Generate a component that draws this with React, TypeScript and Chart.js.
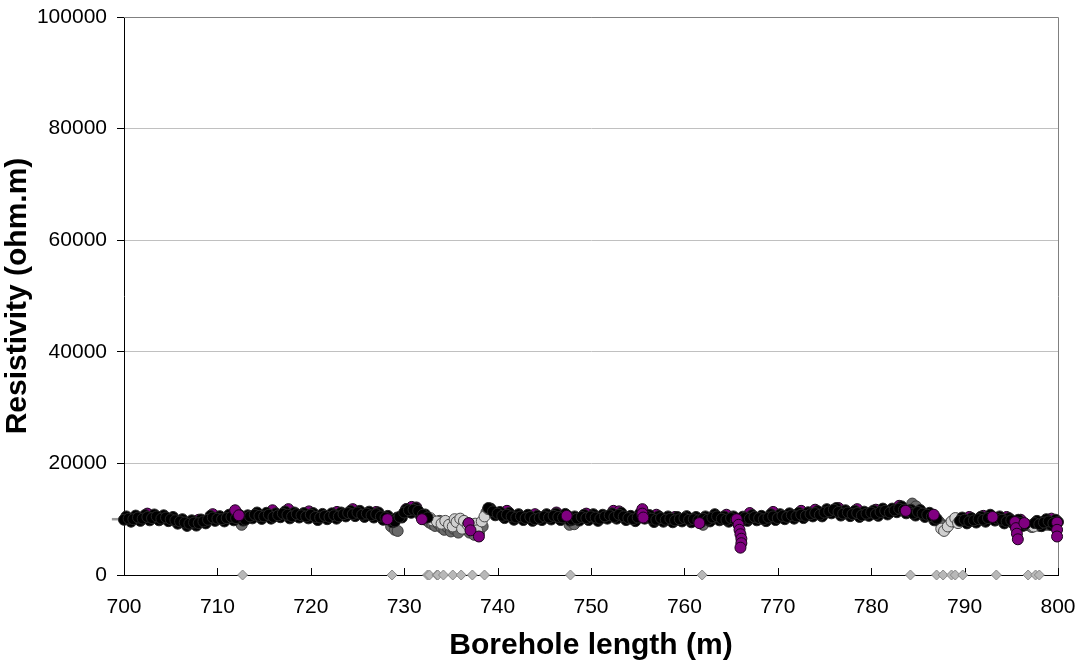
import React, { useEffect, useRef } from "react";
import { Chart, registerables } from "chart.js";

Chart.register(...registerables);

// Main resistivity samples (black)
const blackDepth = [
  700, 700.5, 701, 701.5, 702, 702.5, 703, 703.5, 704, 704.5, 705, 705.5, 706, 706.5, 707, 707.5, 708, 708.5, 709, 709.5,
  710, 710.5, 711, 711.5, 712, 712.5, 713, 713.5, 714, 714.5, 715, 715.5, 716, 716.5, 717, 717.5, 718, 718.5, 719, 719.5,
  720, 720.5, 721, 721.5, 722, 722.5, 723, 723.5, 724, 724.5, 725, 725.5, 726, 726.5, 727, 727.5, 728, 728.5, 729, 729.5,
  730, 730.5, 731, 731.5, 732, 732.5,
  739, 739.5, 740, 740.5, 741, 741.5, 742, 742.5, 743, 743.5, 744, 744.5, 745, 745.5, 746, 746.5, 747, 747.5, 748, 748.5, 749, 749.5,
  750, 750.5, 751, 751.5, 752, 752.5, 753, 753.5, 754, 754.5, 755, 755.5, 756, 756.5, 757, 757.5, 758, 758.5, 759, 759.5,
  760, 760.5, 761, 761.5, 762, 762.5, 763, 763.5, 764, 764.5, 765, 765.5, 766, 766.5, 767, 767.5, 768, 768.5, 769, 769.5,
  770, 770.5, 771, 771.5, 772, 772.5, 773, 773.5, 774, 774.5, 775, 775.5, 776, 776.5, 777, 777.5, 778, 778.5, 779, 779.5,
  780, 780.5, 781, 781.5, 782, 782.5, 783, 783.5, 784, 784.5, 785, 785.5, 786, 786.5, 787,
  789.5, 790, 790.5, 791, 791.5, 792, 792.5, 793, 793.5, 794, 794.5, 795, 795.5, 796, 796.5,
  797.5, 798, 798.5, 799, 799.5, 800,
];
const blackRes = [
  9900, 10100, 10000, 10300, 10100, 10400, 10200, 10500, 10100, 10300, 10000, 9800, 9600, 9400, 9200, 9400, 9300, 9600, 9900, 10300,
  10100, 10000, 10200, 10400, 10200, 10600, 9900, 10500, 10800, 10600, 10500, 10800, 10400, 10700, 11000, 10800, 10500, 10900, 10700, 10500,
  10800, 10400, 10300, 10600, 10400, 10700, 10500, 10900, 11100, 10900, 11200, 10800, 11000, 10700, 10900, 10500, 10300, 9900, 9600, 10400,
  11200, 11600, 11700, 11500, 10800, 10300,
  12000, 11400, 11000, 10600, 10800, 10500, 10300, 10500, 10200, 10400, 10000, 10200, 10500, 10300, 10600, 10400, 10300, 10600, 9900, 10100, 10400, 10200,
  10500, 10300, 10100, 10500, 10700, 10400, 10800, 10500, 10200, 10000, 10300, 10800, 10400, 10100, 9900, 10200, 9900, 10100, 9800, 10000,
  10200, 9900, 10000, 9800, 10100, 9900, 10300, 10500, 10100, 9900, 10200, 9800, 9600, 10300, 10100, 10400, 10200, 10000, 10300, 10500,
  10200, 10600, 10400, 10700, 10500, 10800, 10600, 10900, 11100, 10800, 11200, 11400, 11700, 11300, 11000, 11200, 10900, 11100, 10700, 11000,
  11200, 10900, 11300, 11500, 11200, 11600, 11900, 11700, 11400, 11000, 11300, 11000, 10800, 10500, 10100,
  9700, 9900, 9600, 9800, 10000, 9900, 10200, 10400, 10100, 9900, 9600, 9800, 9500, 9300, 9100,
  9300, 9100, 9400, 9600, 9300, 9500,
];

// In-between black samples (upper and lower edge of the band)
const blackDepth2 = [
  700.25, 700.75, 701.25, 701.75, 702.25, 702.75, 703.25, 703.75, 704.25, 704.75, 705.25, 705.75, 706.25, 706.75, 707.25, 707.75,
  708.25, 708.75, 709.25, 709.75, 710.25, 710.75, 711.25, 711.75, 712.25, 712.75, 713.25, 713.75, 714.25, 714.75, 715.25, 715.75,
  716.25, 716.75, 717.25, 717.75, 718.25, 718.75, 719.25, 719.75, 720.25, 720.75, 721.25, 721.75, 722.25, 722.75, 723.25, 723.75,
  724.25, 724.75, 725.25, 725.75, 726.25, 726.75, 727.25, 727.75, 728.25, 728.75, 729.25, 729.75, 730.25, 730.75, 731.25, 731.75, 732.25,
  739.25, 739.75, 740.25, 740.75, 741.25, 741.75, 742.25, 742.75, 743.25, 743.75, 744.25, 744.75, 745.25, 745.75, 746.25, 746.75,
  747.25, 747.75, 748.25, 748.75, 749.25, 749.75, 750.25, 750.75, 751.25, 751.75, 752.25, 752.75, 753.25, 753.75, 754.25, 754.75,
  755.25, 755.75, 756.25, 756.75, 757.25, 757.75, 758.25, 758.75, 759.25, 759.75, 760.25, 760.75, 761.25, 761.75, 762.25, 762.75,
  763.25, 763.75, 764.25, 764.75, 765.25, 765.75, 766.25, 766.75, 767.25, 767.75, 768.25, 768.75, 769.25, 769.75, 770.25, 770.75,
  771.25, 771.75, 772.25, 772.75, 773.25, 773.75, 774.25, 774.75, 775.25, 775.75, 776.25, 776.75, 777.25, 777.75, 778.25, 778.75,
  779.25, 779.75, 780.25, 780.75, 781.25, 781.75, 782.25, 782.75, 783.25, 783.75, 784.25, 784.75, 785.25, 785.75, 786.25, 786.75,
  789.75, 790.25, 790.75, 791.25, 791.75, 792.25, 792.75, 793.25, 793.75, 794.25, 794.75, 795.25, 795.75, 796.25,
  797.75, 798.25, 798.75, 799.25, 799.75,
];
const blackRes2 = [
  10500, 9550, 10650, 9700, 10750, 9800, 10850, 9800, 10700, 9650, 10400, 9200, 10000, 8800, 9800, 8850,
  9950, 9250, 10600, 9700, 10550, 9600, 10800, 9800, 10900, 9750, 10700, 10150, 11200, 10050, 11150, 10100,
  11050, 10350, 11400, 10150, 11200, 10300, 11100, 10150, 11100, 9850, 10950, 10000, 11050, 10100, 11200, 10500,
  11500, 10550, 11500, 10400, 11350, 10300, 11200, 9900, 10600, 9450, 10300, 10300, 11800, 11150, 12000, 10650, 10850,
  11900, 10700, 11300, 10200, 11150, 9900, 10900, 9850, 10800, 9700, 10600, 9850, 10900, 9950, 11000, 9850,
  10950, 9750, 10500, 9750, 10800, 9850, 10900, 9700, 10800, 10100, 11050, 10100, 11150, 9850, 10600, 9650,
  11050, 10100, 10750, 9500, 10550, 9550, 10500, 9450, 10400, 9600, 10550, 9450, 10400, 9450, 10500, 9600,
  10900, 9800, 10500, 9550, 10500, 9200, 10450, 9700, 10750, 9800, 10600, 9650, 10900, 9850, 10900, 10000,
  11050, 10100, 11150, 10200, 11250, 10500, 11450, 10500, 11800, 11050, 12000, 10650, 11600, 10550, 11500, 10400,
  11350, 10600, 11550, 10600, 11900, 10850, 11900, 11250, 12300, 11050, 11700, 10650, 11650, 10400, 11150, 9800,
  10300, 9250, 10200, 9400, 10450, 9550, 10800, 9750, 10500, 9250, 10200, 9150, 9900, 8800,
  9700, 8750, 10000, 8950, 9900,
];

// Fully visible purple samples
const purpleTopDepth = [
  711.9, 712.3, 728.2, 731.9, 736.9, 737.1, 738.0, 747.4, 755.5, 755.5, 755.6, 761.6,
  765.6, 765.8, 765.9, 766.0, 766.1, 766.1, 766.0, 783.7, 786.7, 793.0,
  795.4, 795.5, 795.6, 795.7, 796.4, 799.9, 799.9, 799.9,
];
const purpleTopRes = [
  11600, 10700, 10000, 10000, 9300, 8000, 6900, 10600, 11800, 11000, 10300, 9300,
  10000, 9000, 8100, 7300, 6500, 5700, 4900, 11500, 10800, 10400,
  9500, 8400, 7400, 6400, 9300, 9400, 8100, 6900,
];

// Purple samples partly hidden in the band
const purpleUnderDepth = [
  702.5, 708, 709.5, 715.9, 717.6, 719.8, 722.8, 724.5, 727, 730.2, 730.8, 731.3,
  741, 744, 746.3, 749.5, 752.4, 753, 757, 759, 764.5, 765.2, 767, 769.5,
  772.5, 774, 776.5, 778.5, 780.5, 783, 790.5, 792, 794.5, 796, 799.3,
];
const purpleUnderRes = [
  11000, 9900, 10900, 11600, 11800, 11400, 11300, 11800, 11300, 11800, 12200, 12100,
  11500, 10900, 11200, 11000, 11500, 11400, 10800, 10400, 10800, 10100, 11100, 11300,
  11500, 11700, 12000, 11800, 11700, 12400, 10400, 10600, 10400, 9900, 10100,
];

// Dark grey samples
const darkGreyDepth = [
  712.6, 728.6, 729.0, 729.3, 732.3, 732.7, 733.0, 733.3, 733.6, 733.8, 734.0, 734.3, 734.6, 734.8, 735.0, 735.3, 735.6, 735.8,
  736.0, 736.3, 736.6, 736.8, 737.0, 737.3, 737.5, 737.8, 738.0, 738.4, 738.8, 739.2, 747.7, 748.2, 762.0,
  784.4, 784.8, 787.3, 787.6, 788.0, 788.4, 788.8, 789.2, 789.5,
  796.8, 797.2, 797.6, 798.0, 798.4, 798.8,
];
const darkGreyRes = [
  9000, 8700, 8100, 7900, 9900, 9400, 9100, 8800, 9300, 9700, 8500, 8100, 8600, 9200, 7800, 8300, 8900, 7600,
  9400, 9000, 8200, 8700, 7600, 8100, 7200, 8300, 7500, 8700, 11200, 11900, 9000, 9100, 9000,
  12800, 12300, 9500, 8900, 8400, 9200, 9800, 10100, 9600,
  8900, 8600, 9200, 8800, 9500, 9000,
];

// Light grey samples
const lightGreyDepth = [
  732.8, 733.0, 733.5, 734.0, 734.4, 734.8, 735.2, 735.4, 735.6, 736.0, 736.2, 736.4, 736.8, 737.2, 737.6, 737.8, 738.3, 738.6, 739.0,
  787.5, 787.8, 788.2, 788.6, 789.0, 789.3, 797.4, 798.2,
];
const lightGreyRes = [
  10200, 9800, 9600, 9200, 9700, 9000, 8700, 10000, 9500, 10100, 8300, 9700, 9000, 8400, 9200, 8000, 9600, 10500, 11800,
  8300, 7900, 8700, 9600, 10200, 9300, 8700, 9300,
];

// Markers on the zero line
const markerDepth = [
  712.7, 728.7, 732.5, 732.7, 733.5, 733.6, 734.2, 735.2, 736.1, 737.3, 738.6, 747.8, 761.9,
  784.2, 787.0, 787.7, 788.6, 789.0, 789.8, 793.4, 796.8, 797.6, 798.0,
];
const markerRes = markerDepth.map(() => 0);

// Grey trend line (only its ends show outside the axes)
const trendDepth = [698.7, 700.3, 799.6, 800.5, 801.1];
const trendRes = [10000, 10000, 9200, 7600, 11200];
const trendGap = [false, true, false, false, false];

const xTicks = [700, 710, 720, 730, 740, 750, 760, 770, 780, 790, 800];

const pts = (xs: number[], ys: number[]) => xs.map((x, i) => ({ x, y: ys[i] }));

const FONT = "'Liberation Sans', Arial, sans-serif";

const framePlugin = {
  id: "frame",
  beforeDatasetsDraw(chart: any) {
    const { ctx, chartArea, scales } = chart;
    ctx.save();
    ctx.strokeStyle = "#808080";
    ctx.lineWidth = 1;
    ctx.beginPath();
    ctx.moveTo(chartArea.left, chartArea.top + 0.5);
    ctx.lineTo(chartArea.right + 0.5, chartArea.top + 0.5);
    ctx.lineTo(chartArea.right + 0.5, chartArea.bottom);
    ctx.stroke();
    ctx.strokeStyle = "#000";
    ctx.beginPath();
    for (const t of xTicks) {
      const px = Math.round(scales.x.getPixelForValue(t)) + 0.5;
      ctx.moveTo(px, chartArea.bottom);
      ctx.lineTo(px, chartArea.bottom - 7);
    }
    ctx.stroke();
    ctx.restore();
  },
};

export default function App() {
  const ref = useRef<HTMLCanvasElement>(null);
  useEffect(() => {
    if (!ref.current) return;
    const circle = (bg: string, border: string, order: number, data: any) => ({
      data,
      order,
      pointStyle: "circle",
      pointRadius: 5.5,
      pointBackgroundColor: bg,
      pointBorderColor: border,
      pointBorderWidth: 1,
      showLine: false,
      clip: false,
    });
    const trendData = trendDepth.map((x, i) => ({ x, y: trendGap[i - 1] ? null : trendRes[i] }));
    const chart = new Chart(ref.current, {
      type: "scatter",
      data: {
        datasets: [
          circle("#800080", "#1a001a", 0, pts(purpleTopDepth, purpleTopRes)),
          circle("#000000", "#262626", 1, pts(blackDepth, blackRes)),
          circle("#000000", "#262626", 2, pts(blackDepth2, blackRes2)),
          circle("#800080", "#1a001a", 3, pts(purpleUnderDepth, purpleUnderRes)),
          circle("#d0d0d0", "#4a4a4a", 4, pts(lightGreyDepth, lightGreyRes)),
          circle("#6a6a6a", "#3a3a3a", 5, pts(darkGreyDepth, darkGreyRes)),
          {
            data: pts(markerDepth, markerRes),
            order: 6,
            pointStyle: "rectRot",
            pointRadius: 5,
            pointBackgroundColor: "#b8b8b8",
            pointBorderColor: "#8a8a8a",
            pointBorderWidth: 1,
            showLine: false,
            clip: false,
          },
          {
            data: trendData,
            order: 7,
            showLine: true,
            spanGaps: false,
            borderColor: "#9a9a9a",
            borderWidth: 2.5,
            pointRadius: 0,
            clip: false,
          } as any,
        ],
      },
      options: {
        responsive: false,
        animation: false,
        devicePixelRatio: 1,
        layout: { padding: { left: 0, right: 24, top: 17, bottom: 0 } },
        plugins: { legend: { display: false }, tooltip: { enabled: false } },
        scales: {
          x: {
            type: "linear",
            min: 700,
            max: 800,
            afterFit: (s: any) => {
              s.height = 91;
              s.paddingLeft = 0;
              s.paddingRight = 0;
            },
            afterBuildTicks: (s: any) => {
              s.ticks = xTicks.map((v) => ({ value: v }));
            },
            grid: { display: true, drawOnChartArea: false, drawTicks: false },
            border: { color: "#000", width: 1 },
            ticks: {
              color: "#000",
              font: { family: FONT, size: 21 },
              padding: 20,
              maxRotation: 0,
              autoSkip: false,
              callback: (v: any) => String(v),
            },
            title: {
              display: true,
              text: "Borehole length (m)",
              color: "#000",
              font: { family: FONT, size: 30, weight: "bold" },
              padding: { top: 0, bottom: 2 },
            },
          },
          y: {
            type: "linear",
            min: 0,
            max: 100000,
            afterFit: (s: any) => {
              s.width = 124;
              s.paddingTop = 0;
              s.paddingBottom = 0;
            },
            ticks: {
              stepSize: 20000,
              color: "#000",
              font: { family: FONT, size: 21 },
              padding: 10,
              callback: (v: any) => String(v),
            },
            grid: { color: "#c0c0c0", tickColor: "#000", tickLength: 7, lineWidth: 1 },
            border: { color: "#000", width: 1 },
            title: {
              display: true,
              text: "Resistivity (ohm.m)",
              color: "#000",
              font: { family: FONT, size: 30, weight: "bold" },
              padding: { top: 0, bottom: 0 },
            },
          },
        },
      },
      plugins: [framePlugin],
    } as any);
    return () => chart.destroy();
  }, []);
  return (
    <div style={{ position: "fixed", left: 0, top: 0, width: 1082, height: 666, background: "#fff" }}>
      <canvas ref={ref} width={1082} height={666} style={{ width: 1082, height: 666, display: "block" }} />
    </div>
  );
}
